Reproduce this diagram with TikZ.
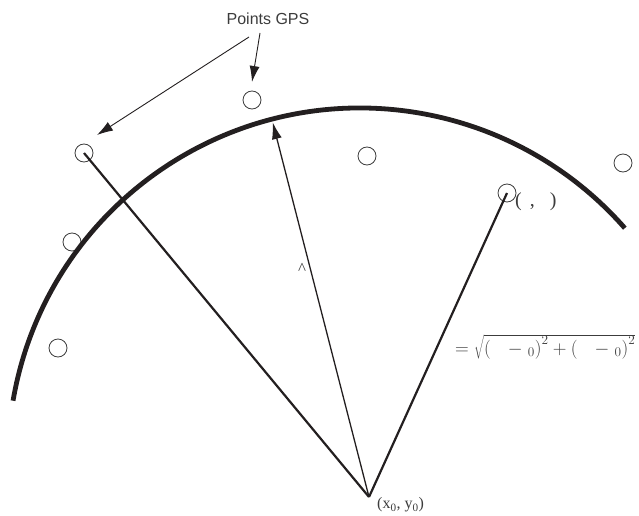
\RequirePackage{fix-cm}
\documentclass[tikz,border=0pt]{standalone}
\usepackage{fontspec}
\setmainfont{Liberation Serif}
\setsansfont{Liberation Sans}
\usepackage{tikz}
\usetikzlibrary{arrows.meta,calc}
\definecolor{InkBlack}{HTML}{231F20}
\definecolor{InkGrey}{HTML}{3C3C3C}

\begin{document}
\begin{tikzpicture}[
    x=1pt,y=-1pt,
    gps/.style={circle,draw=InkGrey,line width=0.8pt,minimum size=18pt,inner sep=0pt},
    track/.style={line width=4.8pt,InkBlack},
    ray/.style={line width=2.2pt,InkBlack},
    rayarr/.style={-{Latex[length=17pt,width=10pt]},line width=1.3pt,InkBlack},
    callout/.style={-{Latex[length=16pt,width=10pt]},line width=0.9pt,InkBlack},
    lbl/.style={text=InkGrey,inner sep=0pt}]
    \useasboundingbox (0,0) rectangle (639,516);
    % GPS points
    \node[gps] (p1) at (84,153) {};
    \node[gps] (p2) at (252,100) {};
    \node[gps] (p3) at (367,156) {};
    \node[gps] (p4) at (623,163) {};
    \node[gps] (p5) at (72,242) {};
    \node[gps] (p6) at (58,348) {};
    \node[gps] (p7) at (507,193) {};
    \coordinate (apex) at (369,497);
    \coordinate (ctr) at (360,460);
    \coordinate (rtip) at ([shift={(255.5:349)}]ctr);
    % fitted circle
    \draw[track] ([shift={(189.7:352)}]ctr) arc[start angle=189.7,end angle=318.8,radius=352];
    \draw[ray] (apex)--(p1.center);
    \draw[ray] (apex)--(p7.center);
    \draw[rayarr] (apex)--(rtip);
    % labels
    \node[lbl,font=\sffamily\fontsize{16}{18}\selectfont] (title) at (268,19) {Points GPS};
    \coordinate (from1) at (249,37);
    \coordinate (from2) at (260,33);
    \coordinate (tip1) at (97,135);
    \coordinate (tip2) at (252,82);
    \draw[callout] (from1)--(tip1);
    \draw[callout] (from2)--(tip2);
    \node[lbl,font=\fontsize{17}{19}\selectfont] (hat) at (302,269) {\textasciicircum};
    \node[lbl,anchor=west,font=\fontsize{20}{22}\selectfont] (pt) at (515,202) {(\hspace{8pt},\hspace{15pt})};
    \node[lbl,anchor=base west,font=\fontsize{19}{22}\selectfont] (dist) at (455,354)
      {$=\sqrt{\bigl(\hspace{17pt}-\;{}_{0}\bigr)^{2}+\bigl(\hspace{17pt}-\;{}_{0}\bigr)^{2}}$};
    \node[lbl,anchor=west,font=\fontsize{16}{18}\selectfont] (orig) at (377,505) {(x\textsubscript{0}, y\textsubscript{0})};
  \end{tikzpicture}
\end{document}
